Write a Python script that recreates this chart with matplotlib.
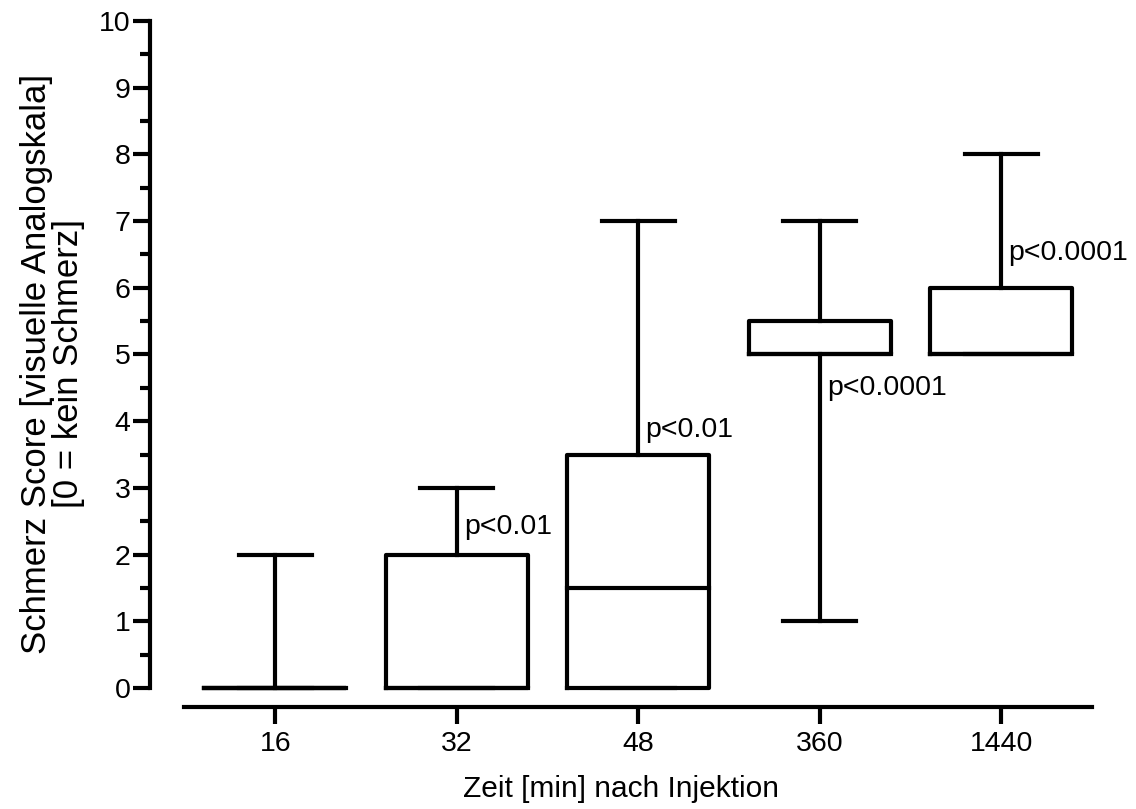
import matplotlib
matplotlib.use('Agg')
import matplotlib.pyplot as plt
from matplotlib.ticker import MultipleLocator

plt.rcParams['font.family'] = ['Liberation Sans', 'DejaVu Sans']

# Daten
zeiten = ['16', '32', '48', '360', '1440']
minimum = [0, 0, 0, 1, 5]
q1 = [0, 0, 0, 5, 5]
median = [0, 0, 1.5, 5, 5]
q3 = [0, 2, 3.5, 5.5, 6]
maximum = [2, 3, 7, 7, 8]
p_texte = ['', 'p<0.01', 'p<0.01', 'p<0.0001', 'p<0.0001']
p_y = [0, 2.41, 3.87, 4.5, 6.52]

lw = 3
fig = plt.figure(figsize=(11.36, 8.09), dpi=100)
ax = fig.add_axes([150/1136, 1 - 707/809, (1092 - 150)/1136, (707 - 21)/809])

stats = []
for i in range(len(zeiten)):
    stats.append({'label': zeiten[i], 'whislo': minimum[i], 'q1': q1[i],
                  'med': median[i], 'q3': q3[i], 'whishi': maximum[i], 'fliers': []})

props = dict(color='black', linewidth=lw, solid_capstyle='projecting')
ax.bxp(stats, positions=range(len(zeiten)), widths=0.78, capwidths=0.4,
       showfliers=False, boxprops=props, whiskerprops=props, capprops=props,
       medianprops=props, manage_ticks=False)
for a in ax.lines:
    a.set_clip_on(False)

for i, t in enumerate(p_texte):
    if t:
        ax.text(i + 0.04, p_y[i], t, fontsize=20.5, ha='left', va='center')

ax.set_xlim(-0.69, 4.5)
ax.set_ylim(-0.285, 10)
ax.set_xticks(range(len(zeiten)))
ax.set_xticklabels(zeiten)
ax.yaxis.set_major_locator(MultipleLocator(1))
ax.yaxis.set_minor_locator(MultipleLocator(0.5))

for s in ['top', 'right']:
    ax.spines[s].set_visible(False)
ax.spines['left'].set_bounds(0, 10)
ax.spines['bottom'].set_bounds(-0.5, 4.5)
ax.spines['left'].set_linewidth(lw)
ax.spines['bottom'].set_linewidth(lw)
ax.spines['left'].set_capstyle('projecting')
ax.spines['bottom'].set_capstyle('projecting')

ax.tick_params(axis='both', which='major', length=12, width=lw, labelsize=20.5)
ax.tick_params(axis='y', which='minor', length=7, width=lw)
ax.tick_params(axis='y', which='major', pad=2)
ax.tick_params(axis='x', which='major', pad=5)

ax.set_xlabel('Zeit [min] nach Injektion', fontsize=21.5, labelpad=13)
ax.set_ylabel('Schmerz Score [visuelle Analogskala]\n[0 = kein Schmerz]', fontsize=25,
              labelpad=10, linespacing=0.95)

fig.savefig('out.png', dpi=100)
